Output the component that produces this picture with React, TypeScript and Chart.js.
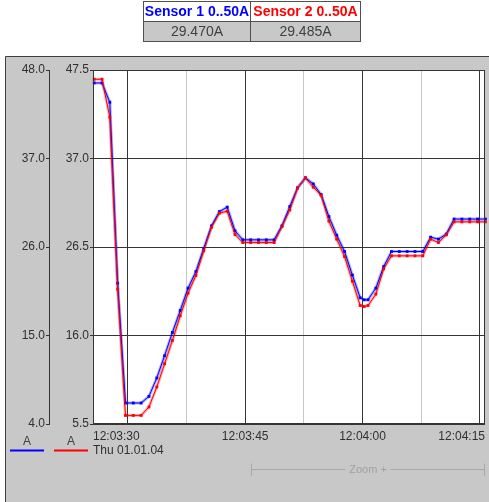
import React, { useEffect, useRef } from 'react';
import { Chart, registerables } from 'chart.js';

Chart.register(...registerables);

// ---- data (seconds after 12:03:00) ----
const sampleSeconds = [
  25.7, 26.7, 27.7, 28.7, 29.7, 30.7, 31.7, 32.7, 33.7, 34.7,
  35.7, 36.7, 37.7, 38.7, 39.7, 40.7, 41.7, 42.7, 43.7, 44.7,
  45.7, 46.7, 47.7, 48.7, 49.7, 50.7, 51.7, 52.7, 53.7, 54.7,
  55.7, 56.7, 57.7, 58.7, 59.7, 60.2, 60.7, 61.7, 62.7, 63.7,
  64.7, 65.7, 66.7, 67.7, 68.7, 69.7, 70.7, 71.7, 72.7, 73.7,
  74.7, 75.7,
];
const sensor1Amps = [
  46.39, 46.39, 43.99, 21.5, 6.61, 6.61, 6.61, 7.43, 9.72, 12.49,
  15.38, 18.11, 20.89, 22.95, 25.81, 28.63, 30.4, 30.95, 28.01, 26.89,
  26.89, 26.89, 26.89, 26.89, 28.63, 31.02, 33.35, 34.59, 33.84, 32.52,
  29.78, 27.47, 25.44, 22.51, 19.69, 19.44, 19.44, 20.89, 23.57, 25.44,
  25.44, 25.44, 25.44, 25.44, 27.22, 26.98, 27.6, 29.47, 29.47, 29.47,
  29.47, 29.47,
];
const sensor2Amps = [
  46.4, 46.4, 41.89, 21.5, 6.52, 6.52, 6.52, 7.52, 9.89, 12.65,
  15.41, 18.34, 21.03, 23.12, 26.04, 28.85, 30.51, 30.75, 27.98, 27.03,
  27.03, 27.03, 27.03, 27.03, 28.92, 30.9, 33.51, 34.7, 33.6, 32.65,
  29.57, 27.43, 25.37, 22.45, 19.56, 19.44, 19.56, 20.91, 23.91, 25.45,
  25.45, 25.45, 25.45, 25.45, 27.43, 27.03, 27.94, 29.485, 29.485, 29.485,
  29.485, 29.485,
];
const sensorNames = ['Sensor 1 0..50A', 'Sensor 2 0..50A'];
const sensorReadings = ['29.470A', '29.485A'];
const sensorColors = ['#0000ff', '#ff0000'];
const sensorHalo = ['rgba(0,0,255,0.3)', 'rgba(255,0,0,0.3)'];
const unitLabels = ['A', 'A'];
const axis1Range = [4, 48];
const axis1Step = 11;
const axis2Range = [5.5, 47.5];
const axis2Step = 10.5;
const timeRange = [25.55, 75.65];
const majorTimeTicks = [30, 45, 60, 75];
const timeTickLabels = ['12:03:30', '12:03:45', '12:04:00', '12:04:15'];
const minorTimeTicks = [37.5, 52.5, 67.5];
const dateLabel = 'Thu 01.01.04';
const zoomLabel = 'Zoom +';

const FONT = '"Liberation Sans", Arial, Helvetica, sans-serif';
const DARK = '#353535';

const decorPlugin = {
  id: 'decor',
  beforeDraw(chart: any) {
    const { ctx, chartArea: a, width, height } = chart;
    ctx.save();
    ctx.fillStyle = '#c8c8c8';
    ctx.fillRect(5, 56, width - 5, height - 56);
    ctx.strokeStyle = '#404040';
    ctx.lineWidth = 1;
    ctx.beginPath();
    ctx.moveTo(5.5, height);
    ctx.lineTo(5.5, 56.5);
    ctx.lineTo(width, 56.5);
    ctx.stroke();
    ctx.fillStyle = '#ffffff';
    ctx.fillRect(a.left, a.top, a.right - a.left, a.bottom - a.top);
    ctx.restore();
  },
  afterDraw(chart: any) {
    const { ctx, chartArea: a } = chart;
    const xs = chart.scales.x;
    ctx.save();
    // plot border
    ctx.strokeStyle = DARK;
    ctx.lineWidth = 1;
    ctx.strokeRect(a.left + 0.5, a.top + 0.5, a.right - a.left - 1, a.bottom - a.top - 1);

    // time labels
    ctx.font = '12px ' + FONT;
    ctx.fillStyle = '#303030';
    ctx.textBaseline = 'middle';
    majorTimeTicks.forEach((v, i) => {
      const label = timeTickLabels[i];
      const w = ctx.measureText(label).width;
      let left: number;
      if (i === 0) left = a.left;
      else left = Math.min(xs.getPixelForValue(v) - w / 2, a.right - w);
      ctx.textAlign = 'left';
      ctx.fillText(label, left, a.bottom + 13);
    });
    ctx.textAlign = 'left';
    ctx.fillText(dateLabel, a.left, a.bottom + 27);

    // legend
    const legendX = [10, 54];
    unitLabels.forEach((u, i) => {
      ctx.fillStyle = '#404040';
      ctx.textAlign = 'center';
      ctx.fillText(u, legendX[i] + 17, a.bottom + 18);
      ctx.strokeStyle = sensorColors[i];
      ctx.lineWidth = 2;
      ctx.beginPath();
      ctx.moveTo(legendX[i], a.bottom + 26.5);
      ctx.lineTo(legendX[i] + 34, a.bottom + 26.5);
      ctx.stroke();
    });

    // zoom bar
    const zl = 251.5;
    const zr = a.right - 0.5;
    const zy = a.bottom + 45.5;
    ctx.font = '11px ' + FONT;
    const tw = ctx.measureText(zoomLabel).width;
    const cx = (zl + zr) / 2;
    ctx.strokeStyle = '#a8a8a8';
    ctx.lineWidth = 1;
    ctx.beginPath();
    ctx.moveTo(zl, zy - 6);
    ctx.lineTo(zl, zy + 6);
    ctx.moveTo(zr, zy - 6);
    ctx.lineTo(zr, zy + 6);
    ctx.moveTo(zl, zy);
    ctx.lineTo(cx - tw / 2 - 4, zy);
    ctx.moveTo(cx + tw / 2 + 4, zy);
    ctx.lineTo(zr, zy);
    ctx.stroke();
    ctx.fillStyle = '#a0a0a0';
    ctx.textAlign = 'center';
    ctx.fillText(zoomLabel, cx, zy);
    ctx.restore();
  },
};

export default function App() {
  const ref = useRef<HTMLCanvasElement | null>(null);

  useEffect(() => {
    if (!ref.current) return;
    const pts = (vals: number[]) => vals.map((y, i) => ({ x: sampleSeconds[i], y }));
    const series = [
      { data: pts(sensor1Amps), axis: 'yOuter' },
      { data: pts(sensor2Amps), axis: 'yInner' },
    ];
    const datasets: any[] = [];
    series.forEach((s, i) => {
      datasets.push({
        data: s.data,
        yAxisID: s.axis,
        borderColor: sensorHalo[i],
        borderWidth: 3,
        pointRadius: 0,
        tension: 0,
        order: 10 + i,
        clip: 3,
      });
      datasets.push({
        data: s.data,
        yAxisID: s.axis,
        borderColor: sensorColors[i],
        borderWidth: 1,
        pointStyle: 'rect',
        pointRadius: 2,
        pointBorderWidth: 0,
        pointBackgroundColor: sensorColors[i],
        tension: 0,
        order: 2 - i,
        clip: 3,
      });
    });

    const tickFont = { family: FONT, size: 12 };
    const chart = new Chart(ref.current, {
      type: 'line',
      data: { datasets },
      options: {
        animation: false,
        responsive: false,
        maintainAspectRatio: false,
        devicePixelRatio: 1,
        layout: { padding: { left: 5, top: 70, right: 2, bottom: 78 } },
        plugins: { legend: { display: false }, tooltip: { enabled: false } },
        scales: {
          x: {
            type: 'linear',
            min: timeRange[0],
            max: timeRange[1],
            afterBuildTicks: (s: any) => {
              s.ticks = [...majorTimeTicks, ...minorTimeTicks].sort((p, q) => p - q).map((v) => ({ value: v }));
            },
            afterFit: (s: any) => {
              s.height = 0;
            },
            ticks: { display: false },
            grid: {
              color: (c: any) => (majorTimeTicks.includes(c.tick?.value) ? DARK : '#c8c8c8'),
              drawTicks: false,
              lineWidth: 1,
            },
            border: { display: false },
          },
          yOuter: {
            type: 'linear',
            position: 'left',
            weight: 1,
            min: axis1Range[0],
            max: axis1Range[1],
            afterFit: (s: any) => {
              s.width = 44;
            },
            ticks: {
              stepSize: axis1Step,
              font: tickFont,
              color: '#303030',
              padding: 1,
              callback: (v: any) => Number(v).toFixed(1),
            },
            grid: { drawOnChartArea: false, tickLength: 3, tickColor: DARK },
            border: { display: true, color: DARK },
          },
          yInner: {
            type: 'linear',
            position: 'left',
            weight: 0,
            min: axis2Range[0],
            max: axis2Range[1],
            afterFit: (s: any) => {
              s.width = 44;
            },
            ticks: {
              stepSize: axis2Step,
              font: tickFont,
              color: '#303030',
              padding: 1,
              callback: (v: any) => Number(v).toFixed(1),
            },
            grid: { color: DARK, tickLength: 3, tickColor: DARK, lineWidth: 1 },
            border: { display: false },
          },
        },
      },
      plugins: [decorPlugin],
    } as any);
    return () => chart.destroy();
  }, []);

  const cell: React.CSSProperties = {
    border: '1px solid #505050',
    padding: 0,
    height: 19,
    textAlign: 'center',
    fontFamily: FONT,
    fontSize: 14,
    lineHeight: '19px',
    whiteSpace: 'nowrap',
  };

  return (
    <div style={{ position: 'absolute', left: 0, top: 0, width: 489, height: 502, background: '#fff', overflow: 'hidden' }}>
      <canvas ref={ref} width={489} height={502} style={{ position: 'absolute', left: 0, top: 0, width: 489, height: 502 }} />
      <table style={{ position: 'absolute', left: 143, top: 1, borderCollapse: 'collapse', zIndex: 2 }}>
        <tbody>
          <tr>
            {sensorNames.map((n, i) => (
              <td key={n} style={{ ...cell, width: i === 0 ? 106 : 109, background: '#fff', color: sensorColors[i], fontWeight: 'bold' }}>
                {n}
              </td>
            ))}
          </tr>
          <tr>
            {sensorReadings.map((r) => (
              <td key={r} style={{ ...cell, background: '#c8c8c8', color: '#404040' }}>
                {r}
              </td>
            ))}
          </tr>
        </tbody>
      </table>
    </div>
  );
}
